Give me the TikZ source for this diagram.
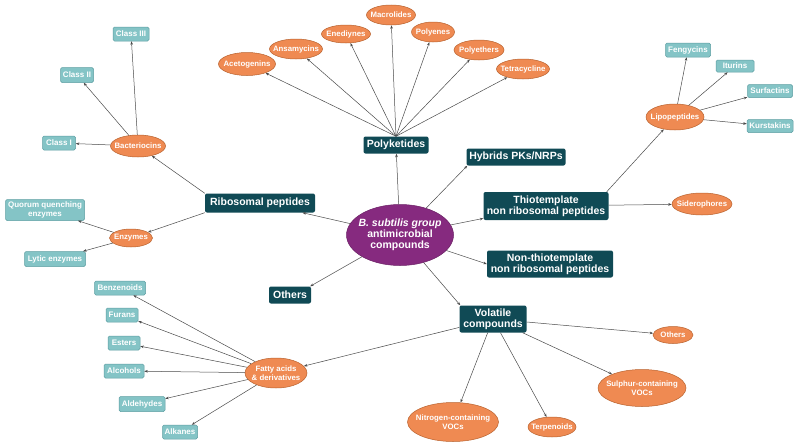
\documentclass[tikz,border=0pt]{standalone}
\usepackage{fontspec}
\setmainfont{Liberation Sans}
\usetikzlibrary{shapes.geometric,arrows.meta}
\definecolor{orfill}{HTML}{EF8A52}
\definecolor{ordraw}{HTML}{B9622E}
\definecolor{tealf}{HTML}{84C4C6}
\definecolor{teald}{HTML}{5E9FA3}
\definecolor{darkf}{HTML}{104A55}
\definecolor{purpf}{HTML}{862A7F}
\definecolor{purpd}{HTML}{6A1F64}
\definecolor{linec}{HTML}{4A4A4A}
\begin{document}
\begin{tikzpicture}[x=1pt,y=-1pt,
  lnk/.style={draw=linec, line width=0.5pt, -{Stealth[length=3.5pt,width=2.6pt]}},
  orng/.style={ellipse, fill=orfill, draw=ordraw, line width=0.5pt, text=white,
    font=\bfseries\fontsize{7.8}{8.6}\selectfont, inner xsep=-20pt, inner ysep=-4pt, align=center},
  tealb/.style={rectangle, rounded corners=1.5pt, fill=tealf, draw=teald, line width=0.5pt, text=white,
    font=\bfseries\fontsize{8}{8.8}\selectfont, inner xsep=1pt, inner ysep=0pt, align=center},
  darkb/.style={rectangle, rounded corners=2pt, fill=darkf, text=white,
    font=\bfseries\fontsize{10.5}{11}\selectfont, inner xsep=2pt, inner ysep=0pt, align=center},
  purp/.style={ellipse, fill=purpf, draw=purpd, line width=0.5pt, text=white,
    font=\bfseries\fontsize{10.5}{11}\selectfont, inner xsep=-20pt, inner ysep=-6pt, align=center},
  sz/.style 2 args={minimum width=#1pt, minimum height=#2pt}
]
\useasboundingbox[fill=white] (0,0) rectangle (800,447);

% centre
\node[purp, sz={107}{61}] (C) at (400,235) {{\itshape B. subtilis group}\\antimicrobial\\compounds};

% main categories
\node[darkb, sz={65}{17}] (PK) at (396,145) {Polyketides};
\node[darkb, sz={99}{17}] (HY) at (516,157) {Hybrids PKs/NRPs};
\node[darkb, sz={125}{28}] (TH) at (546,206) {Thiotemplate\\non ribosomal peptides};
\node[darkb, sz={126}{27}] (NT) at (550,264) {Non-thiotemplate\\non ribosomal peptides};
\node[darkb, sz={110}{19}] (RP) at (260,203) {Ribosomal peptides};
\node[darkb, sz={42}{17}] (OT) at (290,295) {Others};
\node[darkb, sz={67}{27}] (VC) at (493,319) {Volatile\\compounds};

% polyketides children
\node[orng, sz={57}{23}] (AC) at (247,64) {Acetogenins};
\node[orng, sz={53}{20}] (AN) at (296,49) {Ansamycins};
\node[orng, sz={49}{18}] (EN) at (346,34) {Enediynes};
\node[orng, sz={49}{20}] (MA) at (391,15) {Macrolides};
\node[orng, sz={43}{20}] (PO) at (433,32) {Polyenes};
\node[orng, sz={50}{20}] (PE) at (479,50) {Polyethers};
\node[orng, sz={53}{20}] (TE) at (523,69) {Tetracycline};

% ribosomal
\node[orng, sz={55}{22}] (BA) at (138,146) {Bacteriocins};
\node[orng, sz={43}{18}] (EZ) at (131,238) {Enzymes};
\node[tealb, sz={33}{14}] (C1) at (59,143) {Class I};
\node[tealb, sz={33}{15}] (C2) at (77,75) {Class II};
\node[tealb, sz={36}{14}] (C3) at (131,34) {Class III};
\node[tealb, sz={79}{21}] (QQ) at (45,210) {Quorum quenching\\enzymes};
\node[tealb, sz={61}{15}] (LY) at (55,259) {Lytic enzymes};

% thiotemplate
\node[orng, sz={58}{26}] (LP) at (675,117) {Lipopeptides};
\node[orng, sz={60}{22}] (SI) at (702,204) {Siderophores};
\node[tealb, sz={45}{14}] (FE) at (688,50) {Fengycins};
\node[tealb, sz={38}{12}] (IT) at (735,66) {Iturins};
\node[tealb, sz={45}{13}] (SF) at (770,91) {Surfactins};
\node[tealb, sz={46}{13}] (KU) at (770,126) {Kurstakins};

% volatile
\node[orng, sz={62}{30}] (FA) at (276,373) {Fatty acids\\\& derivatives};
\node[orng, sz={40}{17}] (OO) at (673,335) {Others};
\node[orng, sz={88}{37}] (SU) at (642,388) {Sulphur-containing\\VOCs};
\node[orng, sz={48}{20}] (TP) at (552,427) {Terpenoids};
\node[orng, sz={91}{39}] (NI) at (453,422) {Nitrogen-containing\\VOCs};
\node[tealb, sz={51}{14}] (BZ) at (120,288) {Benzenoids};
\node[tealb, sz={32}{14}] (FU) at (122,315) {Furans};
\node[tealb, sz={32}{14}] (ES) at (124,343) {Esters};
\node[tealb, sz={40}{14}] (AL) at (124,371) {Alcohols};
\node[tealb, sz={46}{15}] (AD) at (142,404) {Aldehydes};
\node[tealb, sz={35}{14}] (AK) at (180,432) {Alkanes};

% connectors
\draw[lnk] (C) -- (PK);
\draw[lnk] (C) -- ([xshift=1pt]HY.south west);
\draw[lnk] (C) -- (TH);
\draw[lnk] (C) -- (NT.west);
\draw[lnk] (C) -- (RP);
\draw[lnk] (C) -- ([xshift=-1pt]OT.north east);
\draw[lnk] (C) -- ([xshift=1pt]VC.north west);
\foreach \t in {AC,AN,EN,MA,PO,PE,TE} \draw[lnk] (PK.north) -- (\t);
\draw[lnk] (RP.north west) -- (BA);
\draw[lnk] (RP.south west) -- (EZ);
\foreach \t in {C1,C2,C3} \draw[lnk] (BA) -- (\t);
\foreach \t in {QQ,LY} \draw[lnk] (EZ) -- (\t);
\draw[lnk] ([xshift=-2pt]TH.north east) -- (LP);
\draw[lnk] (TH) -- (SI);
\foreach \t in {FE,IT,SF,KU} \draw[lnk] (LP) -- (\t);
\draw[lnk] (VC) -- (FA);
\foreach \t in {OO,SU,TP,NI} \draw[lnk] (VC) -- (\t);
\foreach \t in {BZ,FU,ES,AL,AD,AK} \draw[lnk] (FA) -- (\t);
\end{tikzpicture}
\end{document}
